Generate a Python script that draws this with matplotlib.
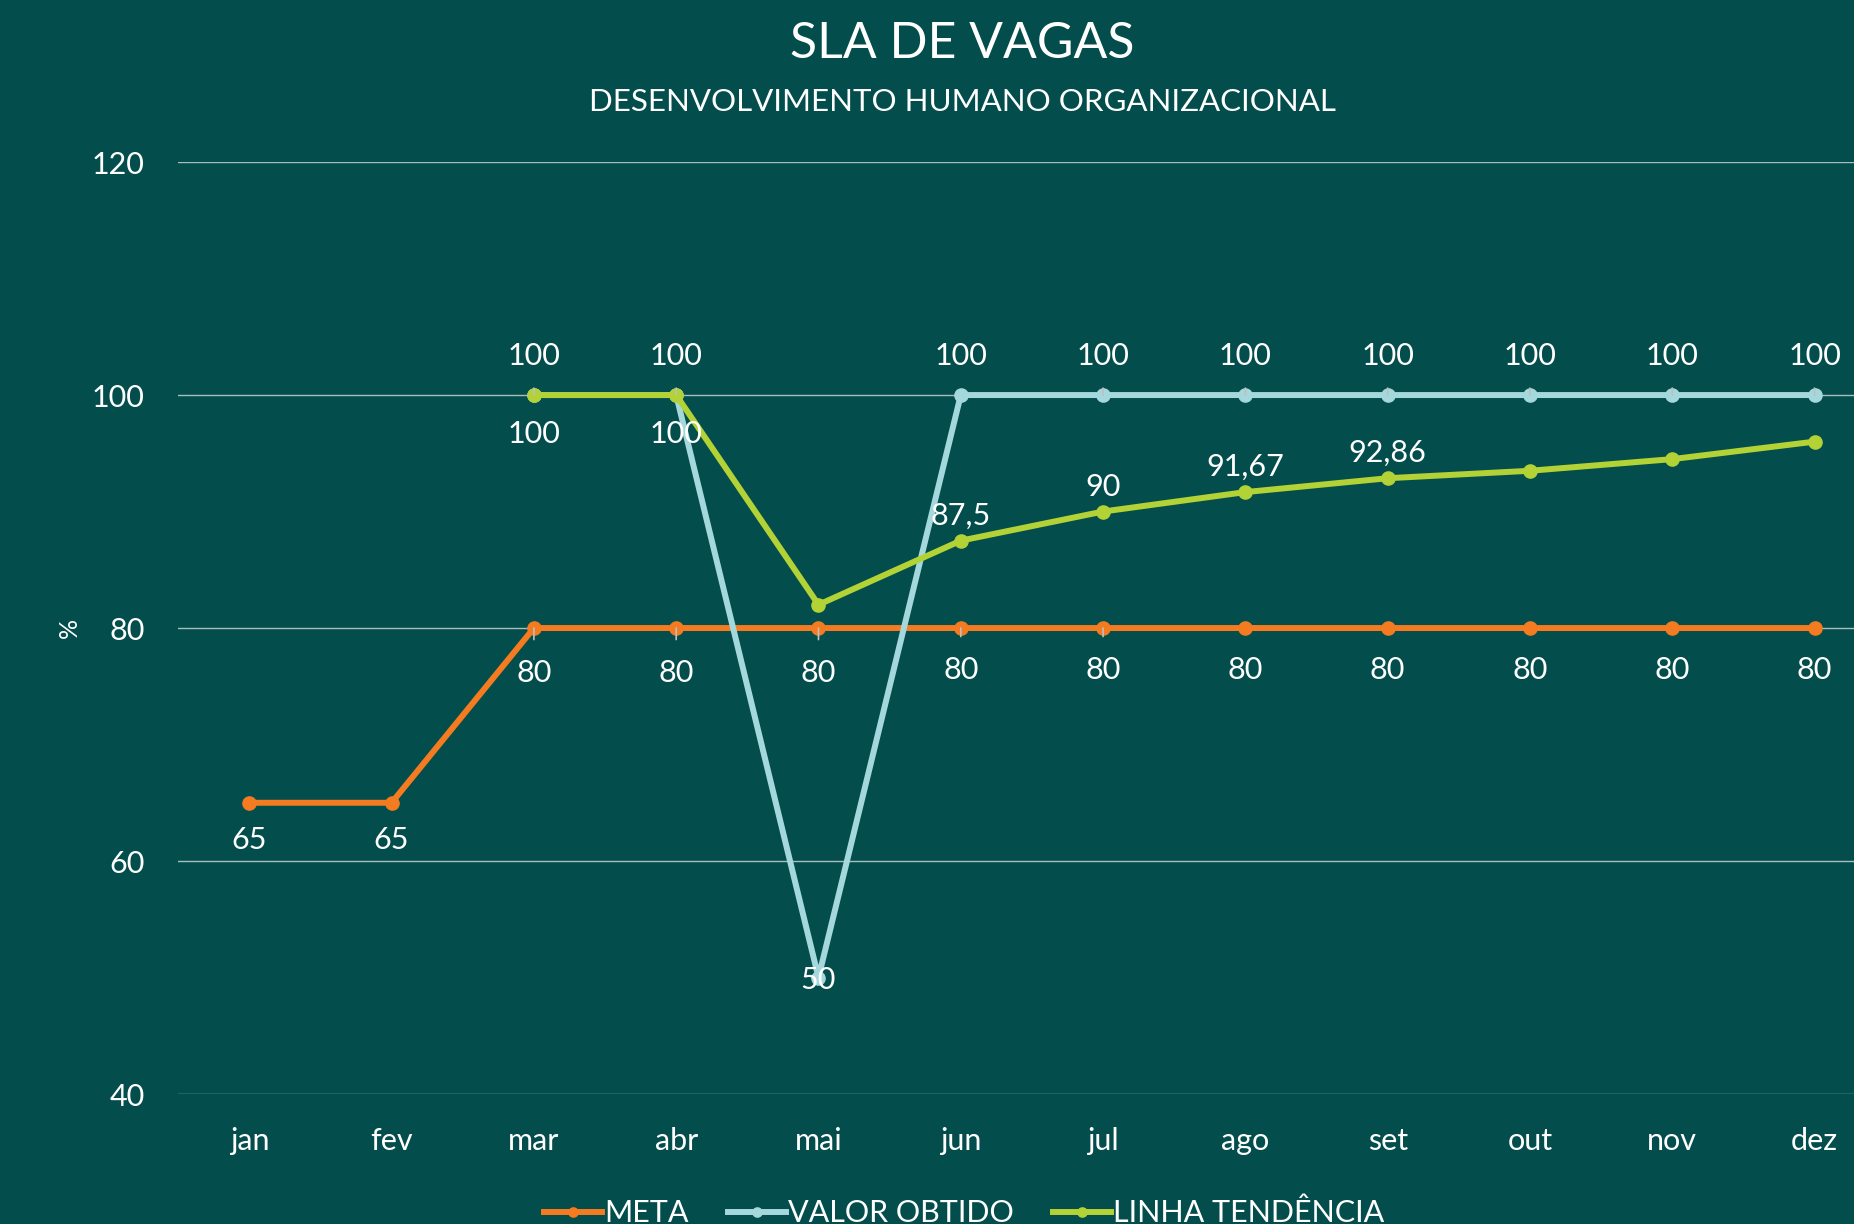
import matplotlib
matplotlib.use("Agg")
import matplotlib.pyplot as plt
import numpy as np

months = ["jan", "fev", "mar", "abr", "mai", "jun", "jul", "ago", "set", "out", "nov", "dez"]
meta = [65, 65, 80, 80, 80, 80, 80, 80, 80, 80, 80, 80]
valor_obtido = [None, None, 100, 100, 50, 100, 100, 100, 100, 100, 100, 100]
linha_tendencia = [None, None, 100, 100, 82, 87.5, 90, 91.67, 92.86, 93.5, 94.5, 96]
yticks = [40, 60, 80, 100, 120]

BG = "#034E4C"
ORANGE = "#F47B20"
BLUE = "#A5D8DD"
GREEN = "#B2D235"
GRID = "#A9BDBC"
FONT = ["Lato", "DejaVu Sans"]

plt.rcParams["font.family"] = FONT

fig = plt.figure(figsize=(18.54, 12.24), dpi=100, facecolor=BG)
ax = fig.add_axes([0.0961, 0.1062, 0.921, 0.7614], facecolor=BG)

x = np.arange(len(months))

def arr(v):
    return np.array([np.nan if a is None else a for a in v], dtype=float)

m = arr(meta); vo = arr(valor_obtido); lt = arr(linha_tendencia)

lw = 4.3
ms = 9.5
ax.plot(x, m, color=ORANGE, lw=lw, marker="o", ms=ms, label="META", zorder=3)
ax.plot(x, vo, color=BLUE, lw=lw, marker="o", ms=ms, label="VALOR OBTIDO", zorder=4)
ax.plot(x, lt, color=GREEN, lw=lw, marker="o", ms=ms, label="LINHA TENDÊNCIA", zorder=5)

ax.set_xlim(-0.5, len(months) - 0.5)
ax.set_ylim(40, 120)
ax.set_yticks(yticks)
ax.set_xticks(x)
ax.set_xticklabels(months)
ax.yaxis.grid(True, color=GRID, lw=1.0)
ax.set_axisbelow(True)
for s in ax.spines.values():
    s.set_visible(False)
ax.tick_params(axis="both", length=0, colors="white", labelsize=22)
ax.tick_params(axis="x", pad=24)
ax.tick_params(axis="y", pad=24)
ax.set_ylabel("%", color="white", fontsize=18, labelpad=8)

def fmt(v):
    s = ("%.2f" % v).rstrip("0").rstrip(".")
    return s.replace(".", ",")

lead = dict(arrowstyle="-", color="#BFBFBF", lw=1.2)

# META labels below
for i, v in enumerate(meta):
    off = -37 if v == 65 else (-45 if i <= 4 else -42)
    kw = {}
    if 2 <= i <= 6:
        kw = dict(arrowprops=dict(lead, shrinkA=12, shrinkB=0))
    ax.annotate(fmt(v), (x[i], v), xytext=(0, off), textcoords="offset pixels",
                ha="center", va="center", color="white", fontsize=22, zorder=6, **kw)

# VALOR OBTIDO labels
for i, v in enumerate(valor_obtido):
    if v is None:
        continue
    if v == 50:
        ax.annotate(fmt(v), (x[i], v), xytext=(0, -2), textcoords="offset pixels",
                    ha="center", va="center", color="white", fontsize=22, zorder=6)
        continue
    kw = {}
    if i != 5:
        kw = dict(arrowprops=dict(lead, shrinkA=11, shrinkB=0))
    ax.annotate(fmt(v), (x[i], v), xytext=(0, 39), textcoords="offset pixels",
                ha="center", va="center", color="white", fontsize=22, zorder=6, **kw)

# LINHA TENDENCIA labels
for i, v in enumerate(linha_tendencia):
    if v is None or i == 4 or i >= 9:
        continue
    off = -39 if v == 100 else 25
    ax.annotate(fmt(v), (x[i], v), xytext=(0, off), textcoords="offset pixels",
                ha="center", va="center", color="white", fontsize=22, zorder=6)

fig.text(0.519, 0.964, "SLA DE VAGAS", ha="center", va="center", color="white", fontsize=36)
fig.text(0.519, 0.917, "DESENVOLVIMENTO HUMANO ORGANIZACIONAL", ha="center", va="center",
         color="white", fontsize=22.5)

leg = fig.legend(loc="center", bbox_to_anchor=(0.52, 0.009), ncol=3, frameon=False,
                 fontsize=22, labelcolor="white", handlelength=1.9, handletextpad=0.05,
                 columnspacing=1.3, markerscale=0.7)

fig.savefig("out.png", dpi=100, facecolor=BG)
